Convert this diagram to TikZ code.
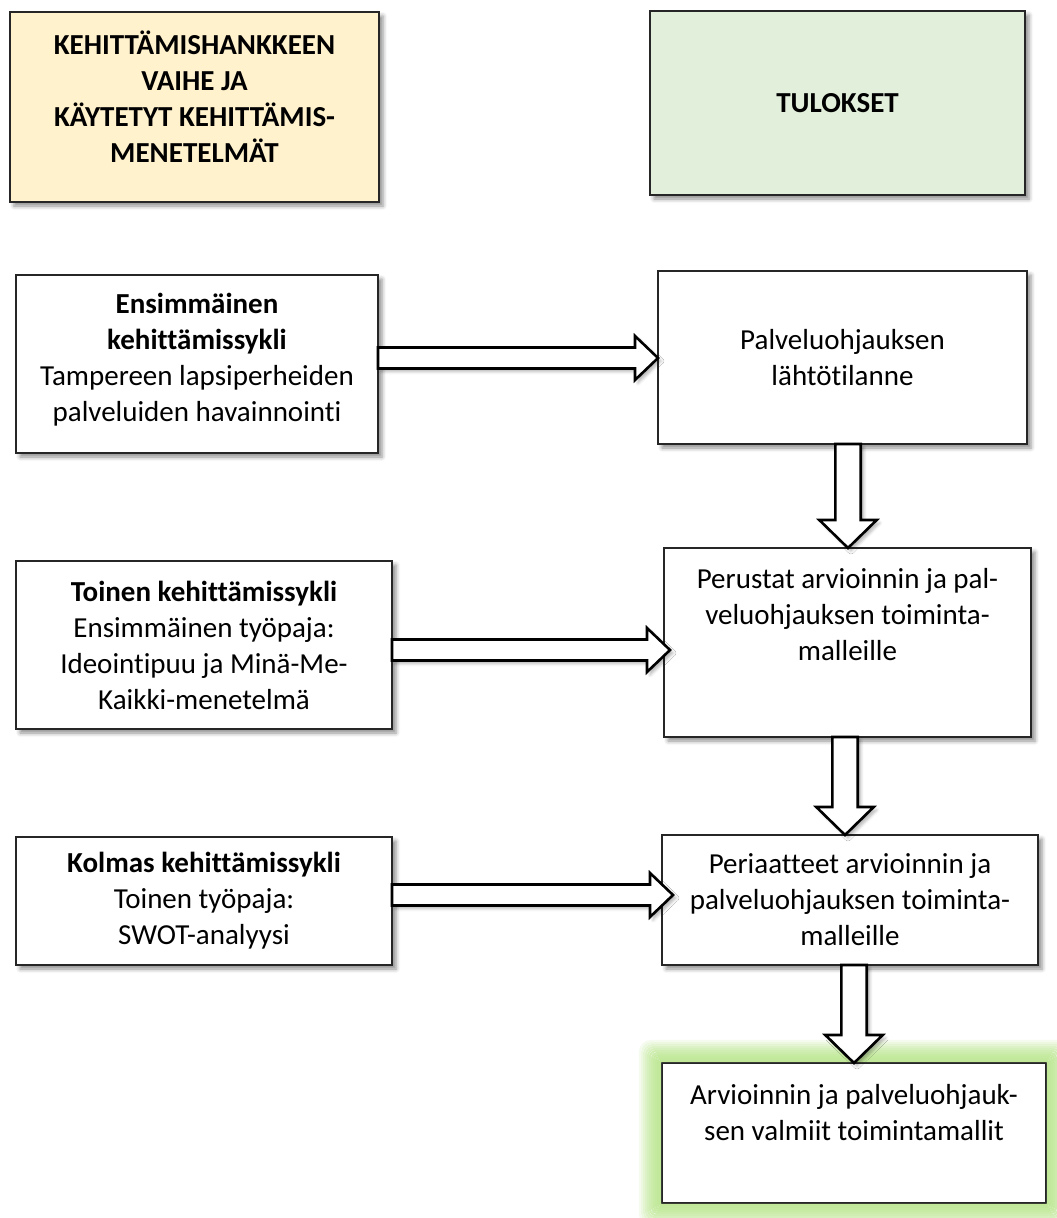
\documentclass[tikz,border=0pt]{standalone}
\usepackage{fontspec}
\setmainfont{Carlito}[RawFeature={-liga}]
\usetikzlibrary{calc,shadows.blur}
\definecolor{hdrY}{RGB}{255,242,204}
\definecolor{hdrG}{RGB}{226,239,218}
\definecolor{glowG}{RGB}{192,232,152}
\newcommand{\bxt}[4]{\parbox[c][#2][c]{#1}{\centering\fontsize{29}{36}\selectfont #4\par\vspace*{#3}}}
\newcommand{\harr}[2]{%
  \draw[barrow] ($(#1)+(0,-10.5)$) -- ($(#2)+(-23,-10.5)$) -- ($(#2)+(-23,-22)$) -- (#2)
    -- ($(#2)+(-23,22)$) -- ($(#2)+(-23,10.5)$) -- ($(#1)+(0,10.5)$) -- cycle;}
\newcommand{\varr}[2]{%
  \draw[barrow] ($(#1)+(-12.7,0)$) -- ($(#2)+(-12.7,-28)$) -- ($(#2)+(-28.7,-28)$) -- (#2)
    -- ($(#2)+(28.7,-28)$) -- ($(#2)+(12.7,-28)$) -- ($(#1)+(12.7,0)$) -- cycle;}
\begin{document}
\begin{tikzpicture}[x=1pt,y=-1pt,
  box/.style={draw=black!85, line width=1.3pt, fill=white, inner sep=0pt, outer sep=0pt,
    blur shadow={shadow xshift=4pt, shadow yshift=-4pt, shadow blur radius=4pt, shadow opacity=45}},
  plainbox/.style={draw=black!85, line width=1.3pt, fill=white, inner sep=0pt, outer sep=0pt},
  barrow/.style={draw=black, line width=2.6pt, fill=white, line join=miter,
    blur shadow={shadow xshift=3pt, shadow yshift=-3pt, shadow blur radius=3pt, shadow opacity=30}}]
\useasboundingbox (0,0) rectangle (1057,1218);

% header boxes
\node[box, fill=hdrY] (hl) at (194.5,107)
  {\bxt{369pt}{190pt}{20pt}{\bfseries KEHITTÄMISHANKKEEN\\VAIHE JA\\KÄYTETYT KEHITTÄMIS-\\MENETELMÄT}};
\node[box, fill=hdrG] (hr) at (837.5,103)
  {\bxt{375pt}{184pt}{0pt}{\bfseries TULOKSET}};

% left column
\node[box] (b1) at (197,364)
  {\bxt{362pt}{178pt}{8pt}{\textbf{Ensimmäinen}\\\textbf{kehittämissykli}\\Tampereen lapsiperheiden\\palveluiden havainnointi}};
\node[box] (b2) at (204,645)
  {\bxt{376pt}{168pt}{0pt}{\textbf{Toinen kehittämissykli}\\Ensimmäinen työpaja:\\Ideointipuu ja Minä-Me-\\Kaikki-menetelmä}};
\node[box] (b3) at (204,901)
  {\bxt{376pt}{128pt}{0pt}{\textbf{Kolmas kehittämissykli}\\Toinen työpaja:\\SWOT-analyysi}};

% right column
\node[box] (r1) at (842.5,357.5)
  {\bxt{369pt}{173pt}{0pt}{Palveluohjauksen\\lähtötilanne}};
\node[box] (r2) at (847.5,642.5)
  {\bxt{367pt}{189pt}{56pt}{Perustat arvioinnin ja pal-\\veluohjauksen toiminta-\\malleille}};
\node[box] (r3) at (850,900)
  {\bxt{376pt}{130pt}{0pt}{Periaatteet arvioinnin ja\\palveluohjauksen toiminta-\\malleille}};
\node[plainbox] (r4) at (854,1133)
  {\bxt{384pt}{140pt}{40pt}{Arvioinnin ja palveluohjauk-\\sen valmiit toimintamallit}};

% green glow around the final box (solid frames, outside the box)
\foreach \i [evaluate=\i as \p using {int(100*(1-(\i/12)^2))}, evaluate=\i as \o using {2*\i}] in {1,...,11} {
  \draw[glowG!\p!white, line width=2.2pt, rounded corners=\i pt]
    ($(r4.south west)+(-\o,\o)$) rectangle ($(r4.north east)+(\o,-\o)$);
}

% horizontal block arrows
\coordinate (a1s) at (b1.east |- 0,358);
\coordinate (a1e) at (r1.west |- 0,358);
\coordinate (a2s) at (b2.east |- 0,650);
\coordinate (a2e) at ($(r2.west |- 0,650)+(6,0)$);
\coordinate (a3s) at (b3.east |- 0,895);
\coordinate (a3e) at ($(r3.west |- 0,895)+(11,0)$);
\harr{a1s}{a1e}
\harr{a2s}{a2e}
\harr{a3s}{a3e}

% vertical block arrows
\coordinate (d1s) at (848,0 |- r1.south);
\coordinate (d1e) at (848,0 |- r2.north);
\coordinate (d2s) at (845,0 |- r2.south);
\coordinate (d2e) at (845,0 |- r3.north);
\coordinate (d3s) at (854,0 |- r3.south);
\coordinate (d3e) at (854,0 |- r4.north);
\varr{d1s}{d1e}
\varr{d2s}{d2e}
\varr{d3s}{d3e}
\end{tikzpicture}
\end{document}
